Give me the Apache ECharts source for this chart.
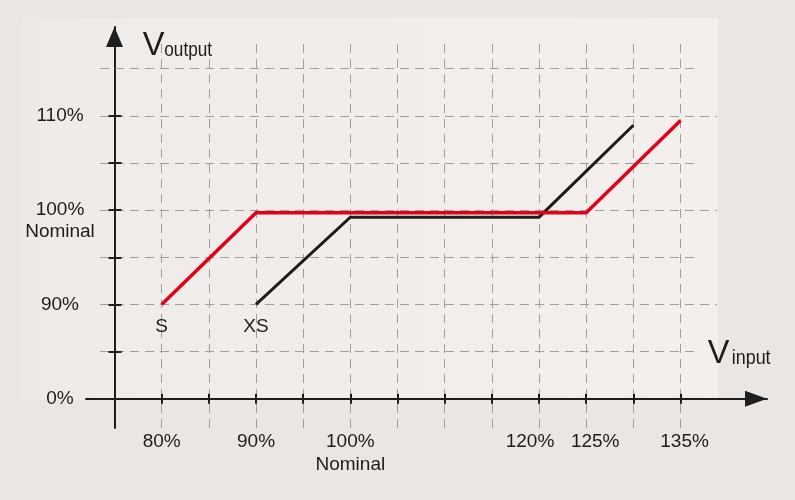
<!DOCTYPE html>
<html><head><meta charset="utf-8">
<script src="https://cdn.jsdelivr.net/npm/echarts@6/dist/echarts.min.js"></script>
<style>html,body{margin:0;padding:0;background:#ebe6e2}#c{width:795px;height:500px}</style>
</head><body><div id="c"></div>
<script>
// Schematic axes: positions are step indices along each axis
const xTickLabels = ['', '80%', '', '90%', '', '100%', '', '', '', '120%', '125%', '', '135%'];
const xTickSubLabels = ['', '', '', '', '', 'Nominal', '', '', '', '', '', '', ''];
const yTickLabels = ['0%', '', '90%', '', '100%', '', '110%'];
const yTickSubLabels = ['', '', '', '', 'Nominal', '', ''];
const seriesNames = ['S', 'XS'];
const sX = [1, 3, 10, 12];
const sY = [2, 3.945, 3.945, 5.9];
const xsX = [3, 5, 9, 11];
const xsY = [2, 3.85, 3.85, 5.8];

// layout (pixels)
const OX = 114.5, OY = 398.8, U = 47.17, W = 795, H = 500;
const axL = 86, axR = 767, axT = 27, axB = 428;
const toX = p => (p - OX) / U;
const toY = p => (OY - p) / U;
const FONT = '"Liberation Sans", Arial, sans-serif';
const TXT = '#1f1c1c';
const GRIDC = '#a39d99';

const labelShift = { 9: -9, 10: 9, 12: 4 };
const xLabelFmt = v => {
  const i = Math.round(v);
  const main = xTickLabels[i] || '';
  if (!main) return '';
  const sub = xTickSubLabels[i];
  const sh = labelShift[i] || 0;
  let s = sh < 0 ? '{l' + (-sh) + '|' + main + '}' : sh > 0 ? '{r' + sh + '|' + main + '}' : '{n|' + main + '}';
  if (sub) s += '\n{n|' + sub + '}';
  return s;
};
const rich = { n: { fontSize: 19, lineHeight: 23, fontFamily: FONT, color: TXT } };
Object.keys(labelShift).forEach(k => {
  const sh = labelShift[k];
  const key = sh < 0 ? 'l' + (-sh) : 'r' + sh;
  rich[key] = { fontSize: 19, lineHeight: 23, fontFamily: FONT, color: TXT,
    padding: sh < 0 ? [0, -2 * sh, 0, 0] : [0, 0, 0, 2 * sh] };
});

// gridlines
const gl = [];
for (let k = 1; k <= 12; k++) gl.push([{ coord: [k, toY(axB)] }, { coord: [k, toY(43)] }]);
for (let r = 1; r <= 7; r++) gl.push([{ coord: [toX(100), r] }, { coord: [toX(r % 2 === 0 ? 717 : 697), r] }]);

function mkData(xs, ys, name) {
  return xs.map((x, i) => i === 0 ? {
    value: [x, ys[i]],
    label: { show: true, formatter: name, position: 'bottom', distance: 13, fontSize: 19, fontFamily: FONT, color: TXT }
  } : { value: [x, ys[i]] });
}

const tickStyle = { color: '#1e1e1e', width: 2 };
const option = {
  backgroundColor: '#ebe6e2',
  animation: false,
  grid: [
    { left: axL, right: W - axR, top: axT, bottom: H - axB, containLabel: false },
    { left: OX, right: W - (OX + 12 * U), top: OY - 6 * U, bottom: H - OY, containLabel: false }
  ],
  xAxis: [
    { gridIndex: 0, type: 'value', min: toX(axL), max: toX(axR),
      axisLine: { show: true, onZero: true, symbol: ['none', 'triangle'], symbolSize: [16, 22], symbolOffset: [0, -11],
        lineStyle: { color: '#1e1e1e', width: 2 } },
      axisTick: { show: false }, axisLabel: { show: false }, splitLine: { show: false } },
    { gridIndex: 1, type: 'value', min: 0, max: 12, interval: 1, position: 'bottom', z: 5,
      axisLine: { show: false }, axisTick: { show: true, inside: true, length: 5, lineStyle: tickStyle },
      axisLabel: { show: true, margin: 31.7, formatter: xLabelFmt, rich: rich, verticalAlign: 'top', fontSize: 19, lineHeight: 23, fontFamily: FONT, color: TXT },
      splitLine: { show: false } },
    { gridIndex: 1, type: 'value', min: 0, max: 12, interval: 1, position: 'bottom', z: 5,
      axisLine: { show: false }, axisTick: { show: true, inside: false, length: 5, lineStyle: tickStyle },
      axisLabel: { show: false }, splitLine: { show: false } }
  ],
  yAxis: [
    { gridIndex: 0, type: 'value', min: toY(axB), max: toY(axT),
      axisLine: { show: true, onZero: true, symbol: ['none', 'triangle'], symbolSize: [17, 20], symbolOffset: [0, -10],
        lineStyle: { color: '#1e1e1e', width: 2 } },
      axisTick: { show: false }, axisLabel: { show: false }, splitLine: { show: false } },
    { gridIndex: 1, type: 'value', min: 0, max: 6, interval: 1, position: 'left', z: 5,
      axisLine: { show: false }, axisTick: { show: true, inside: true, length: 7, lineStyle: tickStyle },
      axisLabel: { show: true, margin: OX - 60, align: 'center', formatter: v => yTickLabels[Math.round(v)] || '',
        fontSize: 19, lineHeight: 23, fontFamily: FONT, color: TXT },
      splitLine: { show: false } },
    { gridIndex: 1, type: 'value', min: 0, max: 6, interval: 1, position: 'left', z: 5,
      axisLine: { show: false }, axisTick: { show: true, inside: false, length: 6, lineStyle: tickStyle },
      axisLabel: { show: true, margin: OX - 60, align: 'center', verticalAlign: 'top', padding: [10, 0, 0, 0],
        formatter: v => yTickSubLabels[Math.round(v)] || '',
        fontSize: 19, lineHeight: 23, fontFamily: FONT, color: TXT },
      splitLine: { show: false } }
  ],
  series: [
    { name: seriesNames[1], type: 'line', xAxisIndex: 0, yAxisIndex: 0, data: mkData(xsX, xsY, seriesNames[1]),
      symbol: 'circle', symbolSize: 0, showSymbol: true, itemStyle: { color: '#1d1d1b' },
      lineStyle: { color: '#1d1d1b', width: 3, join: 'miter', cap: 'butt' }, z: 3, silent: true,
      markLine: { silent: true, z: 1, symbol: ['none', 'none'], label: { show: false }, animation: false,
        lineStyle: { type: [9, 6], color: GRIDC, width: 1 }, data: gl } },
    { name: seriesNames[0], type: 'line', xAxisIndex: 0, yAxisIndex: 0, data: mkData(sX, sY, seriesNames[0]),
      symbol: 'circle', symbolSize: 0, showSymbol: true, itemStyle: { color: '#e2001a' },
      lineStyle: { color: '#e2001a', width: 3.5, join: 'miter', cap: 'butt' }, z: 4, silent: true }
  ],
  graphic: [
    { type: 'rect', z: -10, silent: true, shape: { x: 22, y: 18, width: 696, height: 382 },
      style: { fill: new echarts.graphic.LinearGradient(0, 0, 1, 0, [
        { offset: 0, color: '#edE9e5' }, { offset: 0.15, color: '#f0ece9' }, { offset: 1, color: '#f2efec' }]) } },
    { type: 'text', z: 10, x: 142.7, y: 57.5 - 0.3465 * 32.5, style: { text: 'V', font: '32.5px ' + FONT, fill: TXT, align: 'left', verticalAlign: 'middle' } },
    { type: 'text', z: 10, x: 164.3, y: 57.5 - 0.3465 * 19.5, scaleX: 0.88, style: { text: 'output', font: '19.5px ' + FONT, fill: TXT, align: 'left', verticalAlign: 'middle' } },
    { type: 'text', z: 10, x: 707.7, y: 365 - 0.3465 * 32.5, style: { text: 'V', font: '32.5px ' + FONT, fill: TXT, align: 'left', verticalAlign: 'middle' } },
    { type: 'text', z: 10, x: 731.7, y: 365 - 0.3465 * 19.5, scaleX: 0.92, style: { text: 'input', font: '19.5px ' + FONT, fill: TXT, align: 'left', verticalAlign: 'middle' } }
  ]
};
const chart = echarts.init(document.getElementById('c'), null, { renderer: 'canvas' });
chart.setOption(option);
</script></body></html>
